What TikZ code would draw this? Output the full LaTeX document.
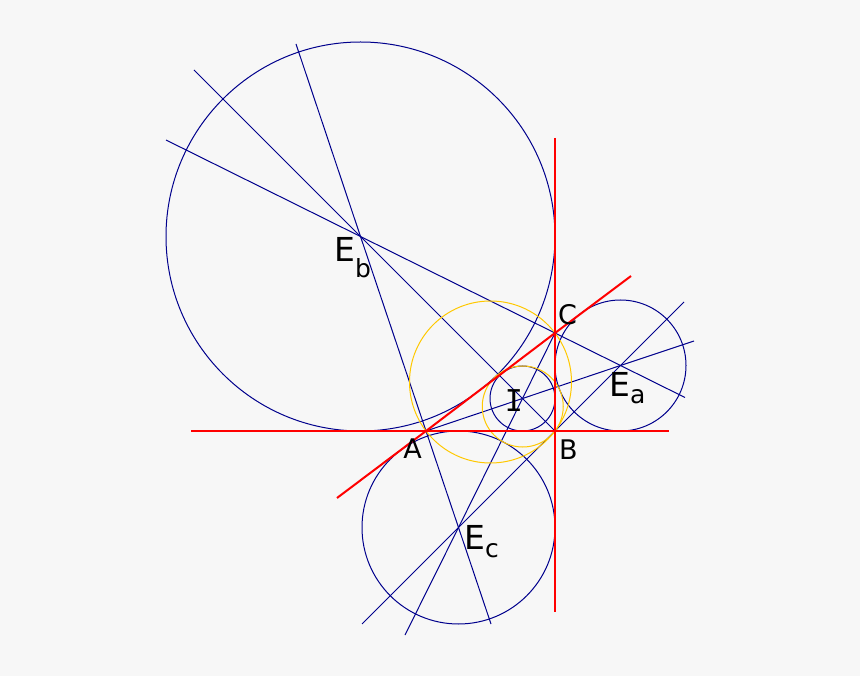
\documentclass[tikz,border=0pt]{standalone}
\usepackage{fontspec}
\setmainfont{DejaVu Sans}
\newfontfamily\monof{DejaVu Sans Mono}
\usetikzlibrary{calc}
\definecolor{bg}{RGB}{247,247,247}
\definecolor{navy}{RGB}{0,0,140}
\definecolor{gold}{RGB}{255,200,0}
\definecolor{redline}{RGB}{255,0,0}
\tikzset{
  bline/.style={draw=navy, line width=1pt},
  yline/.style={draw=gold, line width=1pt},
  rline/.style={draw=redline, line width=2pt},
  lbl/.style={inner sep=0pt, anchor=base, font=\fontsize{27}{27}\selectfont},
  elbl/.style={inner sep=0pt, anchor=base west, font=\fontsize{33}{33}\selectfont},
}
\newcommand{\subl}[2]{\raisebox{#1}{\fontsize{25}{25}\selectfont #2}}
\begin{document}
\begin{tikzpicture}[x=1pt,y=-1pt]
\fill[bg] (0,0) rectangle (860,676);
\useasboundingbox (0,0) rectangle (860,676);
% triangle and centres
\coordinate (A) at (426,431);
\coordinate (B) at (555,431);
\coordinate (C) at (555,333);
\coordinate (I) at (522.5,398.5);
\coordinate (Ea) at (620.5,365.5);
\coordinate (Eb) at (360.5,236.5);
\coordinate (Ec) at (458.5,527.5);
\coordinate (O) at (490.5,382);
\coordinate (N) at (522.75,406.5);
% free ends of the bisector lines
\coordinate (pB) at (194,70);
\coordinate (pC1) at (166,140);
\coordinate (pC2) at (685,397.5);
\coordinate (pA1) at (296,44);
\coordinate (pA2) at (491,624);
\coordinate (pI) at (694,341);
\coordinate (pX1) at (362,624);
\coordinate (pX2) at (684,302);
\coordinate (pY) at (405,635);
% free ends of the red side lines
\coordinate (rH1) at (191,431);
\coordinate (rH2) at (669,431);
\coordinate (rV1) at (555,138);
\coordinate (rV2) at (555,612);
\coordinate (rD1) at (337,498);
\coordinate (rD2) at (631,276);
% blue bisectors
\draw[bline] (pB) -- (Eb) -- (I) -- (B);
\draw[bline] (pC1) -- (Eb) -- (C) -- (Ea) -- (pC2);
\draw[bline] (pA1) -- (Eb) -- (A) -- (Ec) -- (pA2);
\draw[bline] (A) -- (I) -- (Ea) -- (pI);
\draw[bline] (pX1) -- (Ec) -- (B) -- (Ea) -- (pX2);
\draw[bline] (pY) -- (Ec) -- (I) -- (C);
% blue in- and excircles
\draw[bline] (I) circle[radius=32.5pt];
\draw[bline] (Ea) circle[radius=65.5pt];
\draw[bline] (Eb) circle[radius=194.5pt];
\draw[bline] (Ec) circle[radius=96.5pt];
% yellow circumcircle and nine-point circle
\draw[yline] (O) circle[radius=81pt];
\draw[yline] (N) circle[radius=40.5pt];
% red side lines
\draw[rline] (rH1) -- (A) -- (B) -- (rH2);
\draw[rline] (rV1) -- (C) -- (B) -- (rV2);
\draw[rline] (rD1) -- (A) -- (C) -- (rD2);
% labels
\node[lbl] (lA) at (412.5,458) {A};
\node[lbl] (lB) at (568.5,459) {B};
\node[lbl] (lC) at (567.5,325) {C};
\node[lbl, font=\fontsize{30}{30}\monof] (lI) at (514,411.5) {I};
\node[elbl] (lEa) at (609,396) {E\subl{-8pt}{a}};
\node[elbl] (lEb) at (334,262) {E\subl{-16pt}{b}};
\node[elbl] (lEc) at (464,549) {E\subl{-8pt}{c}};
\end{tikzpicture}
\end{document}
